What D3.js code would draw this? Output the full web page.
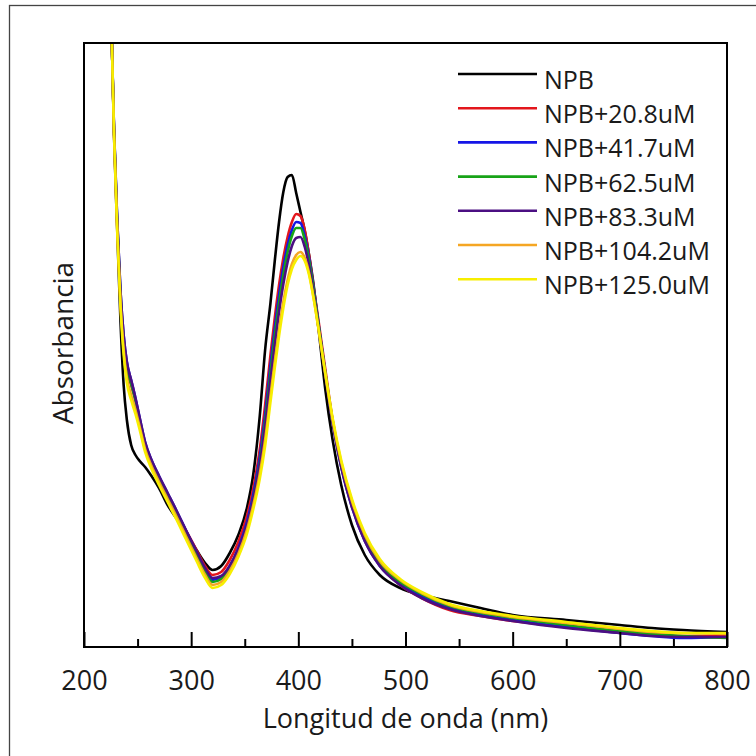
<!DOCTYPE html>
<html><head><meta charset="utf-8">
<script src="https://cdn.jsdelivr.net/npm/d3@7"></script>
<style>body{margin:0;background:#fff}svg{display:block}</style>
</head><body>
<svg id="c" width="756" height="756"></svg>
<script>
// Wavelength grid (nm)
const wavelengths = [224,226,228,231,234,237,240,244,248,252,257,263,270,278,286,295,305,313,320,328,
  336,344,352,358,364,369,374,378,382,386,390,394,398,402,406,410,414,419,425,432,
  440,450,462,476,495,515,541,570,600,650,700,730,759,800];

const seriesNames = ["NPB","NPB+20.8uM","NPB+41.7uM","NPB+62.5uM","NPB+83.3uM","NPB+104.2uM","NPB+125.0uM"];
const seriesColors = ["#000000","#e3161c","#1515e6","#17a317","#4b0f82","#f5a623","#f7ee00"];

const absNPB = [1.354,1.208,1.024,0.834,0.654,0.524,0.454,0.404,0.384,0.372,
  0.360,0.342,0.318,0.284,0.258,0.230,0.194,0.168,0.154,0.162,
  0.188,0.224,0.278,0.346,0.462,0.594,0.688,0.772,0.850,0.910,
  0.940,0.944,0.908,0.870,0.832,0.784,0.728,0.634,0.518,0.414,
  0.324,0.244,0.184,0.144,0.118,0.104,0.092,0.078,0.064,0.054,
  0.044,0.038,0.034,0.030];
const abs208 = [1.354,1.208,1.030,0.844,0.694,0.604,0.554,0.524,0.494,0.454,
  0.404,0.370,0.338,0.304,0.270,0.234,0.194,0.162,0.144,0.150,
  0.174,0.210,0.262,0.318,0.395,0.484,0.584,0.658,0.724,0.778,
  0.820,0.850,0.866,0.862,0.834,0.784,0.724,0.650,0.558,0.454,
  0.364,0.284,0.214,0.164,0.124,0.098,0.074,0.062,0.052,0.040,
  0.030,0.026,0.022,0.022];
const abs417 = [1.354,1.208,1.038,0.854,0.714,0.624,0.570,0.534,0.498,0.458,
  0.410,0.374,0.342,0.308,0.274,0.234,0.190,0.154,0.134,0.140,
  0.162,0.198,0.250,0.306,0.380,0.464,0.564,0.638,0.704,0.760,
  0.804,0.834,0.850,0.848,0.822,0.778,0.722,0.644,0.550,0.450,
  0.360,0.280,0.212,0.162,0.126,0.102,0.078,0.064,0.054,0.040,
  0.028,0.022,0.018,0.020];
const abs625 = [1.354,1.208,1.034,0.850,0.704,0.614,0.562,0.526,0.492,0.452,
  0.404,0.368,0.336,0.302,0.268,0.228,0.184,0.150,0.130,0.136,
  0.158,0.192,0.242,0.296,0.368,0.450,0.548,0.622,0.688,0.744,
  0.790,0.822,0.838,0.838,0.814,0.772,0.718,0.642,0.550,0.452,
  0.364,0.284,0.216,0.166,0.130,0.106,0.082,0.068,0.058,0.044,
  0.032,0.026,0.022,0.018];
const abs833 = [1.354,1.208,1.038,0.854,0.714,0.624,0.570,0.534,0.498,0.458,
  0.410,0.374,0.342,0.308,0.274,0.234,0.192,0.158,0.138,0.142,
  0.162,0.196,0.244,0.296,0.364,0.440,0.534,0.604,0.670,0.726,
  0.770,0.802,0.818,0.820,0.800,0.762,0.710,0.636,0.546,0.448,
  0.360,0.280,0.212,0.162,0.124,0.098,0.076,0.062,0.052,0.038,
  0.028,0.022,0.020,0.020];
const abs1042 = [1.354,1.208,1.030,0.838,0.690,0.594,0.538,0.504,0.474,0.440,
  0.396,0.362,0.330,0.296,0.262,0.222,0.178,0.144,0.124,0.130,
  0.152,0.186,0.234,0.284,0.346,0.414,0.502,0.570,0.634,0.690,
  0.734,0.766,0.784,0.790,0.778,0.748,0.702,0.634,0.548,0.454,
  0.370,0.292,0.224,0.172,0.134,0.108,0.084,0.070,0.060,0.048,
  0.036,0.030,0.028,0.026];
const abs1250 = [1.354,1.208,1.026,0.830,0.682,0.584,0.528,0.494,0.466,0.434,
  0.390,0.356,0.324,0.290,0.256,0.216,0.172,0.138,0.118,0.124,
  0.146,0.180,0.226,0.276,0.336,0.402,0.490,0.558,0.622,0.678,
  0.724,0.756,0.774,0.782,0.772,0.744,0.700,0.634,0.550,0.458,
  0.374,0.296,0.228,0.176,0.136,0.110,0.086,0.072,0.062,0.050,
  0.038,0.032,0.028,0.028];

const seriesValues = [absNPB, abs208, abs417, abs625, abs833, abs1042, abs1250];
const xTicksMajor = [200,300,400,500,600,700,800];
const xTicksMinor = [250,350,450,550,650,750];
const xDomain = [200, 800];
const yDomain = [0, 1.208];

const svg = d3.select("#c");
const m = {left:84, top:43, right:727, bottom:647};
const x = d3.scaleLinear().domain(xDomain).range([m.left, m.right]);
const y = d3.scaleLinear().domain(yDomain).range([m.bottom, m.top]);
const font = "'Open Sans', sans-serif";

// outer frame
svg.append("rect").attr("x",9.5).attr("y",5.5).attr("width",800).attr("height",800)
  .attr("fill","none").attr("stroke","#444").attr("stroke-width",1.3);

svg.append("clipPath").attr("id","clip").append("rect")
  .attr("x",m.left).attr("y",m.top).attr("width",m.right-m.left).attr("height",m.bottom-m.top);

const line = d3.line().x(d=>x(d[0])).y(d=>y(d[1])).curve(d3.curveMonotoneX);
const g = svg.append("g").attr("clip-path","url(#clip)");
seriesValues.forEach((vals,i)=>{
  g.append("path").datum(wavelengths.map((w,j)=>[w,vals[j]]))
    .attr("d",line).attr("fill","none").attr("stroke",seriesColors[i])
    .attr("stroke-width",2.6).attr("stroke-linejoin","round");
});

// axis ticks (inward)
const ax = svg.append("g").attr("transform",`translate(0,${m.bottom})`);
ax.call(d3.axisBottom(x).tickValues(xTicksMajor).tickSizeInner(-15).tickSizeOuter(0).tickFormat(d3.format("d")).tickPadding(24));
ax.select(".domain").remove();
ax.selectAll(".tick line").attr("stroke","#000").attr("stroke-width",2);
ax.selectAll(".tick text").attr("font-family",font).attr("font-size",27).attr("fill","#1a1a1a");
const ax2 = svg.append("g").attr("transform",`translate(0,${m.bottom})`);
ax2.call(d3.axisBottom(x).tickValues(xTicksMinor).tickSizeInner(-8).tickSizeOuter(0).tickFormat(""));
ax2.select(".domain").remove();
ax2.selectAll(".tick line").attr("stroke","#000").attr("stroke-width",2);

// plot frame
svg.append("rect").attr("x",m.left).attr("y",m.top).attr("width",m.right-m.left).attr("height",m.bottom-m.top)
  .attr("fill","none").attr("stroke","#000").attr("stroke-width",2);

// axis titles
svg.append("text").attr("x",(m.left+m.right)/2).attr("y",728).attr("text-anchor","middle")
  .attr("font-family",font).attr("font-size",27).attr("fill","#1a1a1a").text("Longitud de onda (nm)");
svg.append("text").attr("transform","translate(73,343) rotate(-90)").attr("text-anchor","middle")
  .attr("font-family",font).attr("font-size",28).attr("fill","#1a1a1a").text("Absorbancia");

// legend
const leg = svg.append("g");
seriesNames.forEach((n,i)=>{
  const yy = 74 + i*34.2;
  leg.append("line").attr("x1",458).attr("x2",537).attr("y1",yy).attr("y2",yy)
    .attr("stroke",seriesColors[i]).attr("stroke-width",2.6);
  leg.append("text").attr("x",544).attr("y",yy+15).attr("font-family",font).attr("font-size",25)
    .attr("fill","#1a1a1a").text(n);
});
</script>
</body></html>
